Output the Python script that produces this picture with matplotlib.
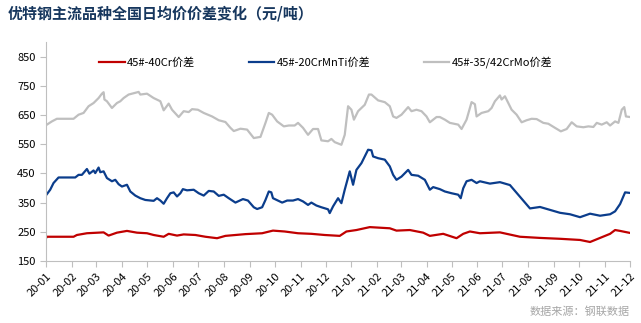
import matplotlib
matplotlib.use("Agg")
import matplotlib.pyplot as plt
import matplotlib.dates as mdates
import pandas as pd

plt.rcParams['font.family'] = ['Noto Sans CJK SC', 'DejaVu Sans']

start = pd.Timestamp("2020-01-01")

# 45#-35/42CrMo price spread (day offset from 2020-01-01, value)
crmo_days = [0, 7, 13, 33, 39, 45, 51, 57, 63, 67, 69, 70, 73, 79, 85, 89, 93, 99, 111, 113,
             121, 129, 137, 141, 147, 151, 159, 165, 171, 175, 182, 189, 199, 207, 215, 221,
             225, 233, 241, 249, 257, 263, 267, 271, 277, 285, 291, 298, 302, 308, 314, 320,
             326, 330, 338, 342, 346, 354, 358, 362, 366, 369, 374, 382, 387, 390, 398, 406,
             412, 416, 420, 426, 434, 438, 444, 450, 456, 460, 468, 472, 478, 484, 494, 498,
             504, 510, 514, 516, 522, 530, 534, 538, 544, 546, 550, 554, 558, 564, 570, 576,
             582, 588, 596, 602, 610, 617, 624, 630, 636, 644, 650, 656, 660, 666, 672, 676,
             682, 686, 690, 693, 695, 700]
crmo_vals = [615, 628, 637, 637, 651, 657, 680, 691, 708, 723, 728, 703, 697, 674, 691, 697, 708, 720, 729, 720,
             723, 708, 697, 666, 689, 668, 643, 663, 660, 670, 668, 657, 645, 632, 626, 606,
             595, 603, 600, 571, 575, 623, 657, 651, 628, 611, 614, 614, 623, 606, 582, 602,
             602, 563, 560, 568, 557, 548, 582, 680, 668, 634, 663, 685, 720, 720, 700, 694,
             680, 645, 640, 651, 677, 663, 668, 663, 645, 625, 643, 643, 634, 623, 617, 602,
             634, 694, 687, 645, 657, 663, 674, 697, 717, 703, 714, 691, 668, 651, 625, 632,
             637, 636, 623, 620, 606, 594, 602, 625, 611, 608, 611, 609, 623, 617, 625, 614,
             628, 623, 668, 677, 645, 643]

# 45#-20CrMnTi price spread
mnti_days = [0, 5, 9, 15, 35, 39, 43, 49, 52, 57, 59, 63, 65, 69, 73, 79, 83, 87, 91, 97,
             101, 107, 113, 119, 129, 133, 137, 141, 145, 149, 153, 157, 161, 164, 169, 177,
             183, 189, 195, 201, 207, 213, 219, 227, 236, 242, 249, 253, 259, 263, 267, 270,
             272, 283, 289, 296, 302, 308, 314, 318, 324, 330, 338, 340, 344, 350, 354, 358,
             364, 368, 372, 378, 382, 386, 390, 392, 398, 406, 412, 416, 420, 426, 434, 438,
             446, 454, 460, 464, 472, 478, 486, 494, 497, 500, 504, 510, 516, 520, 532, 544,
             556, 568, 580, 592, 604, 616, 628, 640, 652, 664, 676, 682, 688, 694, 700]
mnti_vals = [375, 394, 417, 436, 436, 445, 445, 465, 449, 460, 451, 470, 454, 457, 434, 423, 428, 413, 405, 411,
             388, 374, 365, 359, 356, 365, 357, 346, 365, 382, 385, 371, 382, 396, 392, 394,
             382, 374, 390, 388, 373, 377, 365, 350, 362, 357, 334, 328, 334, 359, 388, 385,
             365, 350, 357, 357, 362, 354, 342, 350, 340, 334, 327, 314, 337, 365, 348, 394,
             457, 411, 462, 485, 508, 531, 529, 508, 502, 497, 474, 445, 428, 439, 462, 445,
             442, 428, 394, 403, 396, 388, 382, 377, 365, 399, 423, 428, 417, 423, 415, 420,
             410, 370, 330, 335, 325, 315, 310, 300, 312, 305, 310, 320, 345, 385, 383]

# 45#-40Cr price spread
cr_days = [0, 1, 33, 37, 49, 69, 75, 85, 97, 109, 121, 129, 141, 147, 157, 165, 179, 191, 205, 215,
           239, 259, 272, 286, 302, 318, 334, 352, 360, 372, 388, 412, 420, 436, 452, 460, 476,
           492, 500, 508, 520, 544, 568, 592, 616, 640, 652, 664, 676, 682, 688, 700]
cr_vals = [228, 233, 233, 239, 245, 248, 237, 247, 253, 247, 245, 239, 233, 243, 237, 241, 239, 233, 228, 236,
           242, 245, 254, 251, 245, 243, 239, 236, 251, 256, 266, 262, 254, 256, 247, 236, 243,
           228, 243, 251, 245, 248, 233, 229, 226, 222, 215, 229, 243, 256, 253, 246]

labels = ["45#-40Cr价差", "45#-20CrMnTi价差", "45#-35/42CrMo价差"]
colors = ["#C00000", "#0B3D8C", "#BFBFBF"]


def to_dates(days):
    return start + pd.to_timedelta(days, unit="D")


fig = plt.figure(figsize=(6.41, 3.23), dpi=100)
ax = fig.add_axes([0.0718, 0.192, 0.983 - 0.0718, 0.870 - 0.192])

ax.plot(to_dates(cr_days), cr_vals, color=colors[0], lw=1.6, label=labels[0])
ax.plot(to_dates(mnti_days), mnti_vals, color=colors[1], lw=1.6, label=labels[1])
ax.plot(to_dates(crmo_days), crmo_vals, color=colors[2], lw=1.6, label=labels[2])

ax.set_ylim(150, 900)
ax.set_yticks(range(150, 851, 100))
ax.set_xlim(pd.Timestamp("2020-01-01"), pd.Timestamp("2021-12-01"))
ax.xaxis.set_major_locator(mdates.MonthLocator())
ax.xaxis.set_major_formatter(mdates.DateFormatter("%y-%m"))

for s in ["top", "right"]:
    ax.spines[s].set_visible(False)
for s in ["left", "bottom"]:
    ax.spines[s].set_color("#BFBFBF")
ax.tick_params(axis="both", colors="#BFBFBF", labelcolor="black", labelsize=8, length=4)
for lab in ax.get_xticklabels():
    lab.set_rotation(45)
    lab.set_ha("right")
    lab.set_rotation_mode("anchor")

leg = ax.legend(loc="upper center", bbox_to_anchor=(0.479, 0.98), ncol=3, frameon=False,
                fontsize=8, handlelength=2.3, columnspacing=4.8, handletextpad=0.2)

fig.text(0.012, 0.958, "优特钢主流品种全国日均价价差变化（元/吨）", fontsize=10.8,
         fontweight="bold", color="#17375E", va="center", ha="left")
fig.text(0.983, 0.035, "数据来源：钢联数据", fontsize=8, color="#A6A6A6",
         ha="right", va="center")

fig.savefig("out.png", dpi=100)
